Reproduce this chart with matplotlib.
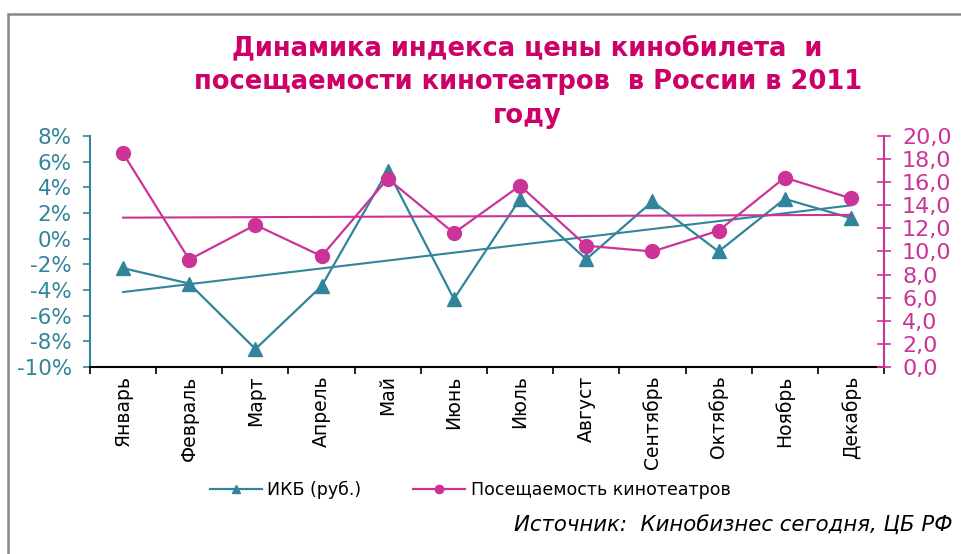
import numpy as np
import matplotlib
matplotlib.use('Agg')
import matplotlib.pyplot as plt
from matplotlib.lines import Line2D
from matplotlib.patches import Rectangle

months = ['Январь', 'Февраль', 'Март', 'Апрель', 'Май', 'Июнь',
          'Июль', 'Август', 'Сентябрь', 'Октябрь', 'Ноябрь', 'Декабрь']
ikb = [-2.3, -3.5, -8.6, -3.7, 5.3, -4.7, 3.1, -1.6, 2.9, -1.0, 3.1, 1.6]
attendance = [18.5, 9.3, 12.3, 9.6, 16.3, 11.6, 15.7, 10.5, 10.0, 11.8, 16.4, 14.6]

left_ticks = [-10, -8, -6, -4, -2, 0, 2, 4, 6, 8]
right_ticks = [0, 2, 4, 6, 8, 10, 12, 14, 16, 18, 20]

TEAL = '#31849B'
PINK = '#CC3399'
TITLE_C = '#CC0066'

plt.rcParams['font.family'] = ['DejaVu Sans']

fig = plt.figure(figsize=(9.61, 5.54), dpi=100)
ax = fig.add_axes([90/961, 1-367/554, (884-90)/961, (367-136)/554])
ax2 = ax.twinx()

x = np.arange(len(months))

# linear trends
k1 = np.polyfit(x, ikb, 1)
k2 = np.polyfit(x, attendance, 1)
ax.plot(x, np.polyval(k1, x), c=TEAL, lw=1.5)
ax.plot(x, ikb, c=TEAL, lw=1.6, marker='^', ms=10)
ax2.plot(x, np.polyval(k2, x), c=PINK, lw=1.5)
ax2.plot(x, attendance, c=PINK, lw=1.6, marker='o', ms=10)

ax.set_xlim(-0.5, 11.5)
ax.set_ylim(-10, 8)
ax.set_yticks(left_ticks)
ax.set_yticklabels([str(t) + '%' for t in left_ticks])
ax2.set_ylim(0, 20)
ax2.set_yticks(right_ticks)
ax2.set_yticklabels([('%.1f' % t).replace('.', ',') for t in right_ticks])

ax.set_xticks(np.arange(-0.5, 12, 1))
ax.set_xticklabels([])
ax.set_xticks(x, minor=True)
ax.set_xticklabels(months, minor=True, rotation=90, fontsize=13.5)
ax.tick_params(axis='x', which='minor', length=0, pad=6)
ax.tick_params(axis='x', which='major', length=5, color='black', width=1.2)

ax.tick_params(axis='y', colors=TEAL, labelsize=15.5, length=5, width=1.2, pad=8)
ax2.tick_params(axis='y', colors=PINK, labelsize=16, length=10, width=1.2,
                direction='inout', pad=8)

for a in (ax, ax2):
    a.spines['top'].set_visible(False)
ax.spines['left'].set_color(TEAL)
ax.spines['left'].set_linewidth(1.5)
ax2.spines['left'].set_visible(False)
ax.spines['right'].set_visible(False)
ax2.spines['right'].set_color(PINK)
ax2.spines['right'].set_linewidth(1.5)
ax.spines['bottom'].set_color('black')
ax.spines['bottom'].set_linewidth(1.5)
ax2.spines['bottom'].set_visible(False)

fig.text(0.549, 1-82/554, 'Динамика индекса цены кинобилета  и\nпосещаемости кинотеатров  в России в 2011\nгоду',
         ha='center', va='center', fontsize=18.5, fontweight='bold', color=TITLE_C,
         linespacing=1.38)

handles = [Line2D([], [], c=TEAL, lw=1.6, marker='^', ms=6),
           Line2D([], [], c=PINK, lw=1.6, marker='o', ms=6)]
fig.legend(handles, ['ИКБ (руб.)', 'Посещаемость кинотеатров'],
           loc='center', bbox_to_anchor=(470/961, 1-490/554), ncol=2,
           frameon=False, fontsize=12.5, handlelength=3, handletextpad=0.3,
           columnspacing=3)

fig.text(952/961, 1-526/554, 'Источник:  Кинобизнес сегодня, ЦБ РФ',
         ha='right', va='center', fontsize=15.3, style='italic', color='black')

fig.add_artist(Rectangle((8/961, -0.1), 1.2, 1 - 14/554 + 0.1,
                         transform=fig.transFigure, fill=False,
                         edgecolor='#888888', lw=1.8))

plt.savefig('out.png', dpi=100)
